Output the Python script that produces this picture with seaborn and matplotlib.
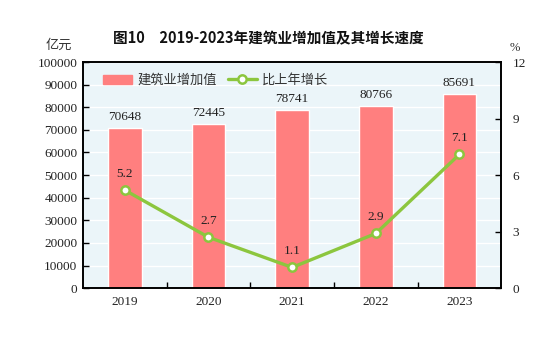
import numpy as np
import pandas as pd
import matplotlib
matplotlib.use("Agg")
import matplotlib.pyplot as plt
import seaborn as sns
from matplotlib.lines import Line2D
from matplotlib.patches import Patch

years = ["2019", "2020", "2021", "2022", "2023"]
value_added = [70648, 72445, 78741, 80766, 85691]
growth = [5.2, 2.7, 1.1, 2.9, 7.1]

sns.set_theme(style="white")
plt.rcParams['font.family'] = ['Liberation Serif', 'Noto Sans CJK SC', 'DejaVu Sans']
plt.rcParams['axes.unicode_minus'] = False

BAR = "#FF7F7F"
LINE = "#8CC63E"
BG = "#EBF5F9"
cjk = ['Noto Sans CJK SC', 'DejaVu Sans']

fig = plt.figure(figsize=(5.57, 3.37), dpi=100)
ax = fig.add_axes([0.149, 0.145, 0.751, 0.671])
ax.set_facecolor(BG)

df = pd.DataFrame({"year": years, "value": value_added, "growth": growth})
sns.barplot(data=df, x="year", y="value", color=BAR, width=0.4, saturation=1, ax=ax, zorder=2)
ax.set_ylim(0, 100000)
ax.set_xlim(-0.5, 4.5)
ax.set_yticks(np.arange(0, 100001, 10000))
ax.set_yticklabels([str(v) for v in range(0, 100001, 10000)], fontsize=9.5, color="#222222")
ax.yaxis.grid(True, color="white", linewidth=1.0, zorder=1)
ax.set_axisbelow(True)
ax.set_xlabel("")
ax.set_ylabel("")
ax.set_xticks(range(5))
ax.set_xticklabels(years, fontsize=9.5, color="#222222")
ax.tick_params(axis="x", length=0, pad=6)
ax.tick_params(axis="y", direction="in", length=4, width=1, color="black", pad=4, left=True)
# minor ticks between categories
ax.set_xticks([0.5, 1.5, 2.5, 3.5], minor=True)
ax.tick_params(axis="x", which="minor", direction="in", length=4, width=1, color="black", bottom=True)
for s in ax.spines.values():
    s.set_color("black")
    s.set_linewidth(1.2)

for i, v in enumerate(value_added):
    ax.text(i, v + 2200, str(v), ha="center", va="bottom", fontsize=9.5, color="#222222", zorder=5)

ax2 = ax.twinx()
sns.lineplot(x=np.arange(5), y=growth, ax=ax2, color=LINE, linewidth=2.4, marker="o",
             markersize=6, markerfacecolor="white", markeredgecolor=LINE, markeredgewidth=1.8, zorder=4)
ax2.set_ylim(0, 12)
ax2.set_yticks([0, 3, 6, 9, 12])
ax2.set_yticklabels(["0", "3", "6", "9", "12"], fontsize=9.5, color="#222222")
ax2.tick_params(axis="y", direction="in", length=4, width=1, color="black", pad=8, right=True)
ax2.set_ylabel("")
for s in ax2.spines.values():
    s.set_color("black")
    s.set_linewidth(1.2)
for i, g in enumerate(growth):
    ax2.text(i, g + 0.55, f"{g:.1f}", ha="center", va="bottom", fontsize=9.5, color="#222222", zorder=5)

handles = [Patch(facecolor=BAR, edgecolor=BAR),
           Line2D([0], [0], color=LINE, linewidth=2.4, marker="o", markersize=6,
                  markerfacecolor="white", markeredgecolor=LINE, markeredgewidth=1.8)]
leg = ax.legend(handles, ["建筑业增加值", "比上年增长"], loc="upper left", ncol=2, frameon=False,
                bbox_to_anchor=(0.02, 1.0), prop={"family": cjk, "size": 9.5}, handlelength=2.2,
                columnspacing=0.8, handletextpad=0.4)
for t in leg.get_texts():
    t.set_color("#333333")
leg.set_zorder(10)

fig.text(0.481, 0.885, "图10　2019-2023年建筑业增加值及其增长速度", ha="center", va="center",
         fontsize=10.5, fontweight="bold", family=cjk, color="#111111")
fig.text(0.105, 0.865, "亿元", ha="center", va="center", fontsize=9.5, family=cjk, color="#333333")
fig.text(0.924, 0.858, "%", ha="center", va="center", fontsize=9, color="#333333")

fig.savefig("out.png", dpi=100)
